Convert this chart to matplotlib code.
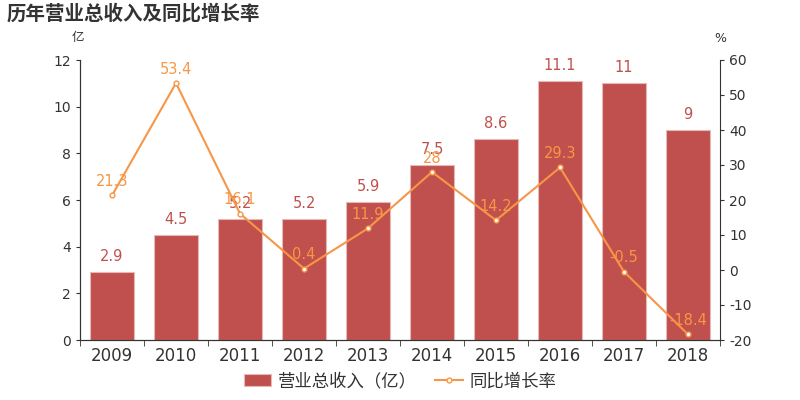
import numpy as np
import matplotlib
matplotlib.use('Agg')
import matplotlib.pyplot as plt

plt.rcParams['font.family'] = ['DejaVu Sans', 'Noto Sans CJK SC']
plt.rcParams['axes.unicode_minus'] = False

years = ['2009', '2010', '2011', '2012', '2013', '2014', '2015', '2016', '2017', '2018']
revenue = [2.9, 4.5, 5.2, 5.2, 5.9, 7.5, 8.6, 11.1, 11, 9]
growth = [21.3, 53.4, 16.1, 0.4, 11.9, 28, 14.2, 29.3, -0.5, -18.4]
rev_labels = ['2.9', '4.5', '5.2', '5.2', '5.9', '7.5', '8.6', '11.1', '11', '9']
growth_labels = ['21.3', '53.4', '16.1', '0.4', '11.9', '28', '14.2', '29.3', '-0.5', '-18.4']

bar_c = '#c0504d'
line_c = '#f79646'
txt_c = '#333333'
cjk = ['Noto Sans CJK SC', 'DejaVu Sans']

fig = plt.figure(figsize=(8, 4), dpi=100)
ax = fig.add_axes([0.1, 0.15, 0.8, 0.70])
ax2 = ax.twinx()

x = np.arange(len(years))
b = ax.bar(x, revenue, width=0.69, color=bar_c, edgecolor='#e6b8b7', linewidth=0.8, zorder=2)
for i, v in enumerate(revenue):
    ax.text(x[i], v + 0.35, rev_labels[i], ha='center', va='bottom', color=bar_c, fontsize=10.5)

ln, = ax2.plot(x, growth, color=line_c, lw=1.5, marker='o', ms=3.5, mfc='white', mec=line_c,
               mew=1, zorder=3)
for i, v in enumerate(growth):
    ax2.text(x[i], v + 1.8, growth_labels[i], ha='center', va='bottom', color=line_c, fontsize=10.5)

ax.set_xlim(-0.5, 9.5)
ax.set_ylim(0, 12)
ax.set_yticks(range(0, 13, 2))
ax2.set_ylim(-20, 60)
ax2.set_yticks(range(-20, 61, 10))

ax.set_xticks(x)
ax.set_xticklabels(years, fontsize=12, color=txt_c)
ax.set_xticks(np.arange(-0.5, 10, 1), minor=True)
ax.tick_params(axis='x', which='major', length=0, pad=5)
ax.tick_params(axis='x', which='minor', length=4, color=txt_c)
ax.tick_params(axis='y', labelsize=10, colors=txt_c, length=3)
ax2.tick_params(axis='y', labelsize=10, colors=txt_c, length=3)

for a in (ax, ax2):
    a.spines['top'].set_visible(False)
    for s in a.spines.values():
        s.set_color(txt_c)
ax.spines['right'].set_visible(False)

ax.set_zorder(ax2.get_zorder() - 1)
ax2.patch.set_visible(False)

fig.text(0.008, 0.965, '历年营业总收入及同比增长率', fontsize=14, fontweight='bold', color=txt_c,
         ha='left', va='center', family=cjk)
fig.text(0.098, 0.905, '亿', fontsize=9, color=txt_c, ha='center', va='center', family=cjk)
fig.text(0.9, 0.905, '%', fontsize=9, color=txt_c, ha='center', va='center')

fig.legend([b, ln], ['营业总收入（亿）', '同比增长率'], loc='lower center', ncol=2, frameon=False,
           bbox_to_anchor=(0.5, -0.015), prop={'family': cjk, 'size': 12.5}, labelcolor=txt_c,
           handlelength=1.6, handletextpad=0.4, columnspacing=1.0)

fig.savefig('out.png', dpi=100)
